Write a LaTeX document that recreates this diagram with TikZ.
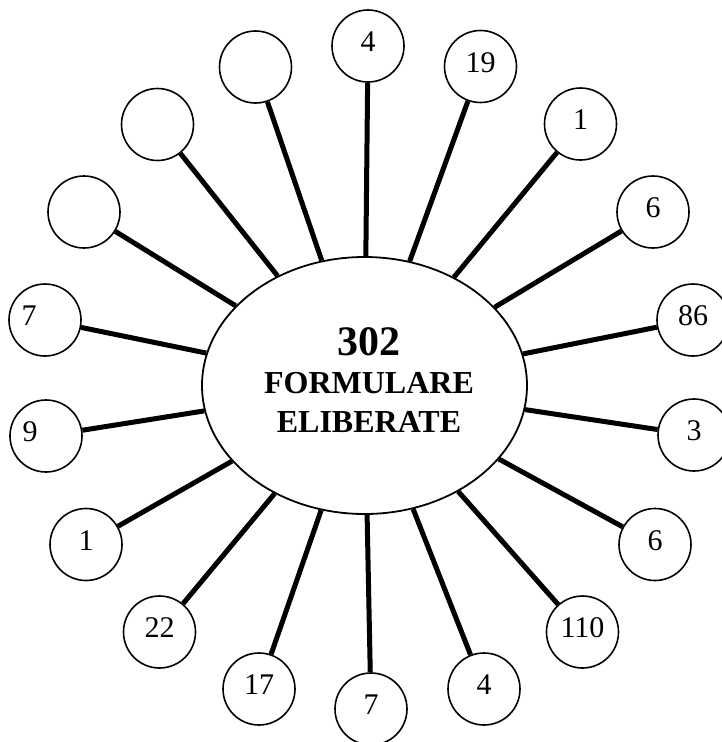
\documentclass[tikz,border=0pt]{standalone}
\usepackage{fontspec}
\setmainfont{Liberation Serif}
\usetikzlibrary{shapes.geometric}
\begin{document}
\begin{tikzpicture}[x=1pt,y=-1pt,
  bub/.style={circle,draw,line width=1.6pt,minimum size=72pt,inner sep=0pt,
    font=\fontsize{30}{32}\selectfont,text height=20pt,text depth=9pt},
  spoke/.style={line width=5pt},
  hub/.style={ellipse,draw,line width=1.8pt,minimum width=325pt,minimum height=257pt,inner sep=0pt},
  big/.style={font=\bfseries\fontsize{42}{44}\selectfont,anchor=base,inner sep=0pt},
  word/.style={font=\bfseries\fontsize{32}{34}\selectfont,anchor=base,inner sep=0pt}]
\useasboundingbox (0,0) rectangle (721,742);
\node[hub] (E) at (364.5,385.5) {};
\node[big] (n302) at (369,355) {302};
\node[word] (form) at (369,393) {FORMULARE};
\node[word] (elib) at (369,432) {ELIBERATE};

\node[bub] (t4) at (368,46) {4};
\node[bub] (t19) at (480.5,66.5) {19};
\node[bub] (r1) at (580.5,124) {1};
\node[bub] (r6) at (653,212) {6};
\node[bub] (r86) at (693,320) {86};
\node[bub] (r3) at (694,435) {3};
\node[bub] (r6b) at (655,544.5) {6};
\node[bub] (b110) at (582.5,632) {110};
\node[bub] (b4) at (484,689) {4};
\node[bub] (b7) at (371,709) {7};
\node[bub] (b17) at (259,689) {17};
\node[bub] (b22) at (159.5,632) {22};
\node[bub] (l1) at (86,544.5) {1};
\node[bub] (l9) at (46,436) {\hspace*{-32pt}9};
\node[bub] (l7) at (45,320) {\hspace*{-32pt}7};
\node[bub] (lA) at (84,212) {};
\node[bub] (lB) at (157.5,124.5) {};
\node[bub] (lC) at (255.5,67) {};

\foreach \n in {t4,t19,r1,r6,r86,r3,r6b,b110,b4,b7,b17,b22,l1,l9,l7,lA,lB,lC}
  \draw[spoke] (\n) -- (E);
\end{tikzpicture}
\end{document}
